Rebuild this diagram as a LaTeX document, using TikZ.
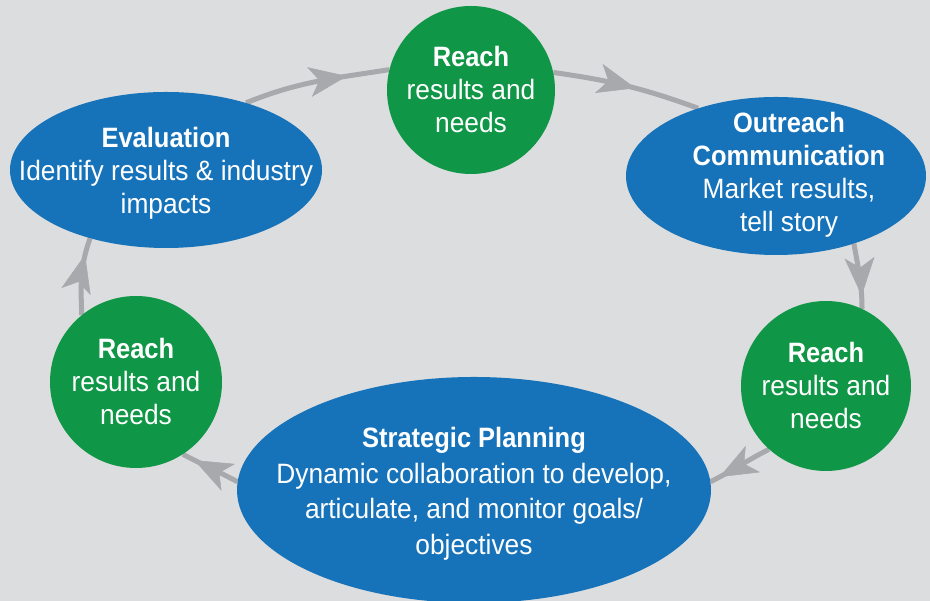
\documentclass[tikz,border=0pt]{standalone}
\usepackage{fontspec}
\setmainfont{Liberation Sans}[FakeStretch=0.94,BoldFeatures={FakeStretch=0.91}]
\usetikzlibrary{arrows.meta,decorations.markings,backgrounds,shapes.geometric}
\definecolor{bgc}{RGB}{220,221,222}
\definecolor{bluec}{RGB}{22,114,185}
\definecolor{greenc}{RGB}{15,150,70}
\definecolor{ringc}{RGB}{167,169,172}
\begin{document}
\begin{tikzpicture}[x=1pt,y=1pt,
  txt/.style={align=center, text=white, font=\fontsize{28}{33}\selectfont, inner sep=0pt},
  circ/.style={circle, fill=greenc, minimum size=#1, inner sep=0pt, txt},
  ell/.style 2 args={ellipse, fill=bluec, minimum width=#1, minimum height=#2, inner sep=0pt},
  ring/.style={draw=ringc, line width=5pt, postaction={decorate},
    decoration={markings, mark=at position #1 with {\arrow{Stealth[length=38pt,width=30pt,inset=10pt,line width=0.5pt]}}}},
]
\useasboundingbox (0,0) rectangle (930,601);
\node[circ=168pt] (top) at (471,511) {\textbf{Reach}\\results and\\needs};
\node[ell={312pt}{156pt}] (eval) at (166,431) {};
\node[txt] (evaltxt) at (166,428) {\textbf{Evaluation}\\Identify results \& industry\\impacts};
\node[ell={300pt}{158pt}] (outr) at (776,425) {};
\node[txt] (outrtxt) at (789,426) {\textbf{Outreach}\\\textbf{Communication}\\Market results,\\tell story};
\node[circ=170pt] (rreach) at (826,215) {\textbf{Reach}\\results and\\needs};
\node[circ=172pt] (lreach) at (136,219) {\textbf{Reach}\\results and\\needs};
\node[ell={474pt}{226pt}] (strat) at (474,111) {};
\node[txt, font=\fontsize{28}{35.5}\selectfont] (strattxt) at (474,107) {\textbf{Strategic Planning}\\Dynamic collaboration to develop,\\articulate, and monitor goals/\\objectives};
\begin{pgfonlayer}{background}
\fill[bgc] (0,0) rectangle (930,601);
\draw[ring=0.71] (eval.40) to[out=22,in=189] (top.166);
\draw[ring=0.56] (top.12) to[out=-8,in=160] (outr.139);
\draw[ring=0.80] (outr.-41) to[out=-80,in=90] (rreach.65);
\draw[ring=0.85] (rreach.228) to[out=207,in=27] (strat.2);
\draw[ring=0.79] (strat.178) to[out=152,in=-28] (lreach.303);
\draw[ring=0.78] (lreach.129) to[out=92,in=250] (eval.222);
\end{pgfonlayer}
\end{tikzpicture}
\end{document}
